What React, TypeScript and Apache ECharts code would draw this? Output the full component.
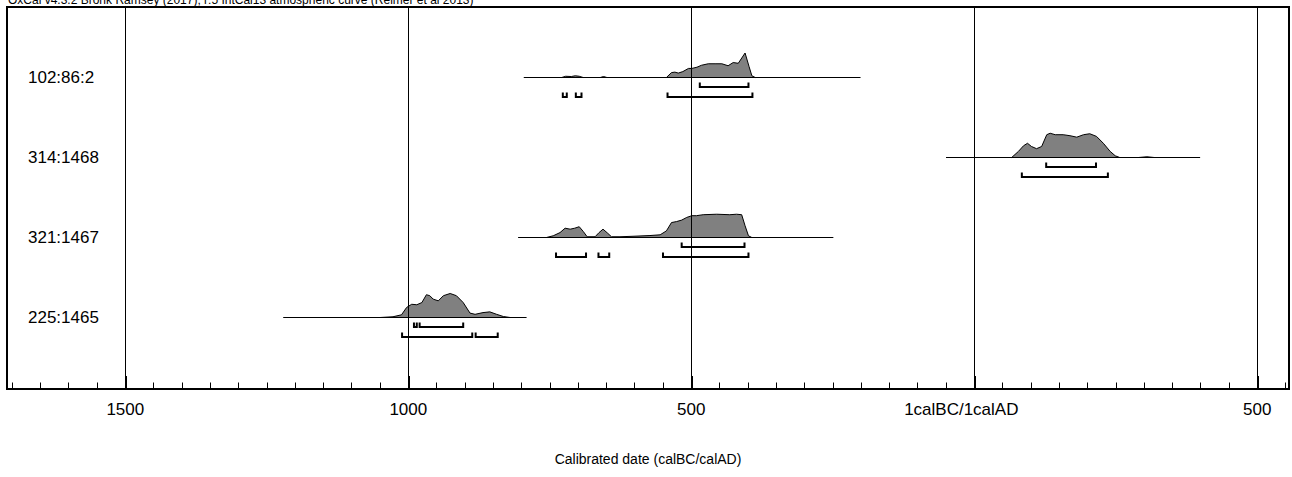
import React, { useEffect, useRef } from "react";
import * as echarts from "echarts";

const FONT = '"Liberation Sans", Arial, Helvetica, sans-serif';
const TITLE =
  "OxCal v4.3.2 Bronk Ramsey (2017); r:5 IntCal13 atmospheric curve (Reimer et al 2013)";
const AXIS_NAME = "Calibrated date (calBC/calAD)";

// rows, top to bottom
const NAMES = ["102:86:2", "314:1468", "321:1467", "225:1465"];
const ROW_POS = [3, 2, 1, 0];

// x axis (negative = calBC, positive = calAD)
const X_MIN = -1709;
const X_MAX = 556;
const MAJOR_TICKS = [-1500, -1000, -500, 0, 500];
const MINOR_STEP = 50;

const Y_MIN = -0.89375;
const Y_MAX = 3.88125;
const PEAK = 0.30625; // height of a probability of 1 in row units

// 102:86:2
const R1_YEARS = [-729, -722, -712, -705, -698, -691, -661, -655, -649, -544, -535, -529, -523, -515, -505, -499, -490, -482, -470, -458, -446, -435, -426, -417, -405, -398, -393, -387];
const R1_PROB = [0, 0.05, 0.04, 0.07, 0.05, 0, 0, 0.04, 0, 0, 0.2, 0.22, 0.18, 0.24, 0.37, 0.37, 0.42, 0.5, 0.56, 0.56, 0.56, 0.48, 0.61, 0.58, 1.0, 0.45, 0.07, 0];
const R1_68 = [[-485, -399]];
const R1_95 = [[-727, -720], [-704, -694], [-542, -392]];

// 314:1468
const R2_YEARS = [66, 78, 87, 94, 101, 110, 119, 128, 134, 143, 157, 169, 181, 193, 204, 216, 228, 240, 249, 257, 290, 305, 318];
const R2_PROB = [0, 0.25, 0.48, 0.58, 0.45, 0.36, 0.45, 0.93, 0.99, 0.93, 0.93, 0.89, 0.83, 0.93, 0.97, 0.86, 0.58, 0.25, 0.07, 0, 0, 0.03, 0];
const R2_68 = [[127, 215]];
const R2_95 = [[84, 236]];

// 321:1467
const R3_YEARS = [-756, -744, -732, -723, -714, -706, -698, -691, -684, -670, -663, -656, -648, -641, -626, -603, -573, -555, -544, -535, -526, -517, -508, -499, -491, -479, -455, -432, -420, -411, -405, -399, -393];
const R3_PROB = [0, 0.07, 0.2, 0.38, 0.34, 0.38, 0.44, 0.25, 0.03, 0.03, 0.2, 0.34, 0.18, 0.03, 0.03, 0.05, 0.08, 0.11, 0.27, 0.61, 0.65, 0.71, 0.82, 0.89, 0.89, 0.93, 0.95, 0.93, 0.95, 0.93, 0.48, 0.07, 0];
const R3_68 = [[-517, -406]];
const R3_95 = [[-739, -686], [-664, -645], [-550, -399]];

// 225:1465
const R4_YEARS = [-1050, -1027, -1012, -1003, -994, -985, -976, -968, -962, -956, -947, -938, -926, -915, -903, -891, -882, -868, -856, -844, -832, -820];
const R4_PROB = [0, 0.03, 0.11, 0.41, 0.54, 0.52, 0.61, 0.93, 0.89, 0.75, 0.68, 0.89, 0.98, 0.89, 0.61, 0.18, 0.13, 0.2, 0.23, 0.13, 0.04, 0];
const R4_68 = [[-990, -985], [-980, -903]];
const R4_95 = [[-1011, -887], [-881, -842]];

// extent of each row's baseline
const LINE_START = [-796, -50, -806, -1221];
const LINE_END = [-201, 399, -249, -791];

const ROWS = [
  { years: R1_YEARS, prob: R1_PROB, r68: R1_68, r95: R1_95 },
  { years: R2_YEARS, prob: R2_PROB, r68: R2_68, r95: R2_95 },
  { years: R3_YEARS, prob: R3_PROB, r68: R3_68, r95: R3_95 },
  { years: R4_YEARS, prob: R4_PROB, r68: R4_68, r95: R4_95 },
];

function minorTicks(): number[] {
  const out: number[] = [];
  for (let v = Math.ceil(X_MIN / MINOR_STEP) * MINOR_STEP; v <= X_MAX; v += MINOR_STEP) out.push(v);
  return out;
}

function xLabel(v: number): string {
  if (v === 0) return "{c|1calBC/1calAD}";
  return String(Math.abs(v));
}

export default function App() {
  const ref = useRef<HTMLDivElement>(null);
  useEffect(() => {
    if (!ref.current) return;
    const chart = echarts.init(ref.current, undefined, { renderer: "svg" });

    const renderItem = (params: any, api: any) => {
      const i = params.dataIndex;
      const row = ROWS[i];
      const base = ROW_POS[i];
      const n = row.years.length;
      const pts: number[][] = [api.coord([row.years[0], base])];
      for (let k = 0; k < n; k++) pts.push(api.coord([row.years[k], base + row.prob[k] * PEAK]));
      pts.push(api.coord([row.years[n - 1], base]));
      const a = api.coord([LINE_START[i], base]);
      const b = api.coord([LINE_END[i], base]);
      const children: any[] = [
        {
          type: "polygon",
          shape: { points: pts },
          style: { fill: "#808080", stroke: "#000", lineWidth: 1 },
        },
        {
          type: "line",
          shape: { x1: a[0], y1: a[1], x2: b[0], y2: b[1] },
          style: { stroke: "#000", lineWidth: 1 },
        },
      ];
      const bracket = (r: number[], off: number) => {
        const p = api.coord([r[0], base]);
        const q = api.coord([r[1], base]);
        const y = p[1] + off;
        return {
          type: "polyline",
          shape: { points: [[p[0], y - 4.5], [p[0], y], [q[0], y], [q[0], y - 4.5]] },
          style: { stroke: "#000", lineWidth: 2, fill: null },
        };
      };
      row.r68.forEach((r) => children.push(bracket(r, 9.5)));
      row.r95.forEach((r) => children.push(bracket(r, 19.5)));
      return { type: "group", children };
    };

    chart.setOption({
      animation: false,
      backgroundColor: "#ffffff",
      textStyle: { fontFamily: FONT },
      graphic: [
        {
          type: "text",
          x: 8,
          y: 6,
          style: {
            text: TITLE,
            fill: "#000",
            fontSize: 12,
            fontFamily: FONT,
            verticalAlign: "bottom",
            align: "left",
          },
        },
      ],
      grid: {
        left: 7,
        top: 7,
        width: 1282,
        height: 382,
        show: true,
        borderColor: "#000",
        borderWidth: 2,
        containLabel: false,
        outerBoundsMode: "none",
      },
      xAxis: [
        {
          type: "value",
          min: X_MIN,
          max: X_MAX,
          position: "bottom",
          axisLine: { show: true, onZero: false, lineStyle: { color: "#000", width: 2 } },
          axisTick: {
            show: true,
            inside: true,
            length: 13,
            customValues: MAJOR_TICKS,
            lineStyle: { color: "#000", width: 2 },
          },
          axisLabel: {
            show: true,
            customValues: MAJOR_TICKS,
            formatter: xLabel,
            color: "#000",
            fontSize: 17,
            fontFamily: FONT,
            margin: 12,
            rich: {
              c: { fontSize: 17, fontFamily: FONT, color: "#000", padding: [0, 26, 0, 0] },
            },
          },
          splitLine: { show: false },
          name: AXIS_NAME,
          nameLocation: "middle",
          nameGap: 63,
          nameTextStyle: { color: "#000", fontSize: 14, fontFamily: FONT },
        },
        {
          type: "value",
          min: X_MIN,
          max: X_MAX,
          position: "bottom",
          axisLine: { show: false, onZero: false },
          axisLabel: { show: false },
          splitLine: { show: false },
          axisTick: {
            show: true,
            inside: true,
            length: 6.5,
            customValues: minorTicks(),
            lineStyle: { color: "#000", width: 1 },
          },
        },
      ],
      yAxis: {
        type: "value",
        min: Y_MIN,
        max: Y_MAX,
        axisLine: { show: true, onZero: false, lineStyle: { color: "#000", width: 2 } },
        axisTick: { show: false },
        splitLine: { show: false },
        axisLabel: {
          inside: true,
          customValues: ROW_POS,
          formatter: (v: number) => NAMES[ROW_POS.indexOf(v)] ?? "",
          color: "#000",
          fontSize: 17,
          fontFamily: FONT,
          margin: 21,
          padding: [3, 0, 0, 0],
        },
      },
      series: [
        {
          type: "custom",
          xAxisIndex: 0,
          yAxisIndex: 0,
          clip: false,
          renderItem,
          data: NAMES.map((_, i) => [LINE_START[i], ROW_POS[i]]),
          z: 2,
        },
        {
          type: "line",
          xAxisIndex: 0,
          yAxisIndex: 0,
          data: [[X_MIN, Y_MIN]],
          showSymbol: false,
          lineStyle: { opacity: 0 },
          z: 3,
          markLine: {
            silent: true,
            symbol: ["none", "none"],
            label: { show: false },
            lineStyle: { color: "#000", width: 1, type: "solid" },
            data: MAJOR_TICKS.map((v) => ({ xAxis: v })),
          },
        },
      ],
    });
    return () => chart.dispose();
  }, []);

  return (
    <div
      ref={ref}
      style={{ position: "absolute", left: 0, top: 0, width: 1292, height: 477, background: "#fff" }}
    />
  );
}
